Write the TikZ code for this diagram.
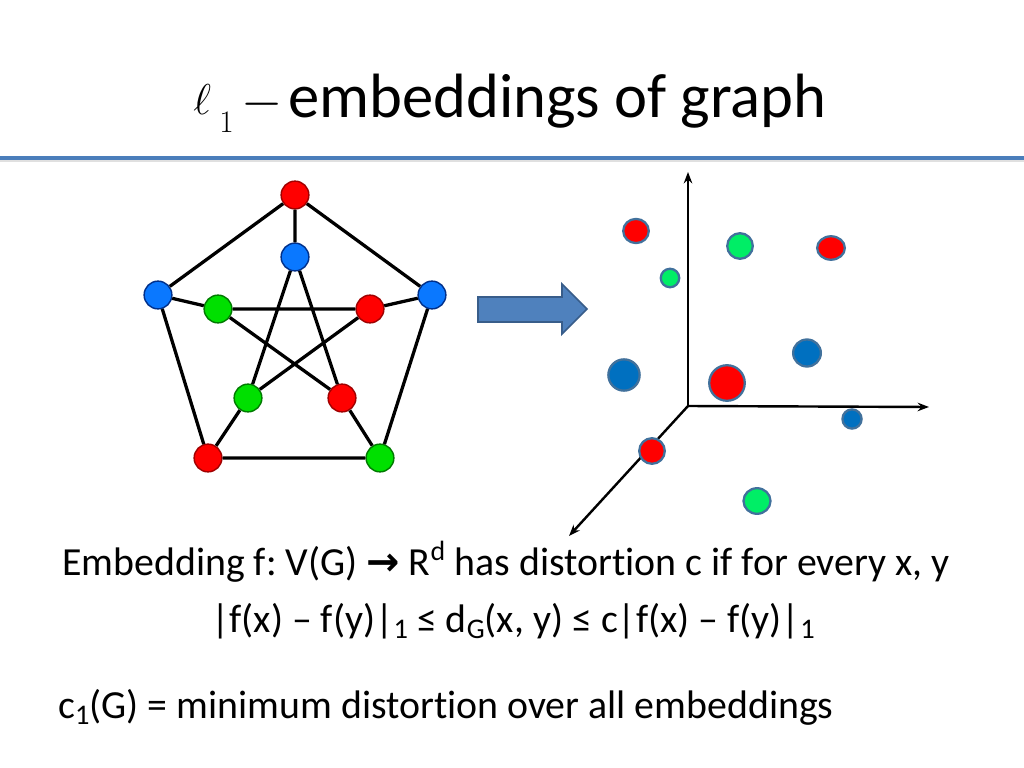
\RequirePackage{fix-cm}
\documentclass[tikz,border=0pt]{standalone}
\usepackage{graphicx}
\usepackage{fontspec}
\setmainfont[Ligatures=NoCommon]{Carlito}
\newfontfamily\symfont{DejaVu Sans}
\newfontfamily\lmr{Latin Modern Roman}
\usetikzlibrary{arrows.meta,shapes.geometric}
\definecolor{gred}{HTML}{FF0000}
\definecolor{gredline}{HTML}{A00000}
\definecolor{gblue}{HTML}{0A78FF}
\definecolor{gblueline}{HTML}{00308A}
\definecolor{ggreen}{HTML}{00E000}
\definecolor{ggreenline}{HTML}{007A00}
\definecolor{pgreen}{HTML}{00EE66}
\definecolor{pblue}{HTML}{0070C0}
\definecolor{pline}{HTML}{41719C}
\definecolor{arrfill}{HTML}{4F81BD}
\definecolor{arrline}{HTML}{385D8A}
\definecolor{hline}{HTML}{4A7EBB}
\newcommand{\pxu}{0.703125pt}
\newcommand{\mysb}[1]{\raisebox{-0.35ex}{\fontsize{20}{20}\selectfont #1}}
\tikzset{
  gnode/.style={circle, draw, line width=1pt, minimum size=19.5pt, inner sep=0pt},
  gr/.style={gnode, fill=gred, draw=gredline},
  gb/.style={gnode, fill=gblue, draw=gblueline},
  gg/.style={gnode, fill=ggreen, draw=ggreenline},
  edge/.style={line width=2.3pt, black},
  pdot/.style={ellipse, draw=pline, line width=1.6pt, inner sep=0pt},
  axis/.style={line width=1.7pt, black, -{Stealth[length=8pt,width=6pt]}},
  body/.style={inner sep=0pt, font=\fontsize{28}{32}\selectfont},
  tpart/.style={inner sep=0pt, anchor=base west}
}
\begin{document}
\frenchspacing
\begin{tikzpicture}[x=\pxu, y=-\pxu]
\useasboundingbox (0,0) rectangle (1024,768);
\fill[white] (0,0) rectangle (1024,768);
% header line
\fill[black!12] (0,160) rectangle (1024,162);
\draw[hline, line width=2.2pt] (0,158) -- (1024,158);
% title
\node[tpart, font=\fontsize{24.88}{30}\selectfont] (tl) at (193,115) {\scalebox{1.22}{$\ell$}};
\node[tpart, font=\lmr\fontsize{22}{22}\selectfont] (tsub) at (219,133) {1};
\node[tpart, font=\fontsize{24.88}{30}\selectfont] (tminus) at (241,118) {\scalebox{1.5}{$-$}};
\node[tpart, font=\fontsize{44}{52}\selectfont] (title) at (288,118) {embeddings of graph};
% Petersen graph
\node[gr] (o1) at (295,195) {};
\node[gb] (o2) at (158,295) {};
\node[gb] (o5) at (432,295) {};
\node[gr] (o3) at (208,458) {};
\node[gg] (o4) at (380,458) {};
\node[gb] (i1) at (295,257) {};
\node[gg] (i2) at (218,309) {};
\node[gr] (i5) at (370,309) {};
\node[gg] (i3) at (248,398) {};
\node[gr] (i4) at (342,398) {};
\draw[edge] (o1) -- (o2) (o2) -- (o3) (o3) -- (o4) (o4) -- (o5) (o5) -- (o1);
\draw[edge] (o1) -- (i1) (o2) -- (i2) (o3) -- (i3) (o4) -- (i4) (o5) -- (i5);
\draw[edge] (i1) -- (i3) (i1) -- (i4) (i2) -- (i5) (i2) -- (i4) (i5) -- (i3);
% block arrow
\draw[fill=arrfill, draw=arrline, line width=1.2pt]
  (478,297) -- (562,297) -- (562,284) -- (587,309) -- (562,334) -- (562,322) -- (478,322) -- cycle;
% axes
\coordinate (O) at (688,406);
\coordinate (Ay) at (688,172);
\coordinate (Ax) at (929,407);
\coordinate (Az) at (569,536);
\draw[axis] (O) -- (Ay);
\draw[axis] (O) -- (Ax);
\draw[axis] (O) -- (Az);
% points
\node[pdot, fill=gred, minimum width=18pt, minimum height=17pt] (p1) at (636,231) {};
\node[pdot, fill=pgreen, minimum width=18pt, minimum height=18pt] (p2) at (740,246) {};
\node[pdot, fill=gred, minimum width=19.5pt, minimum height=16.5pt] (p3) at (831,248) {};
\node[pdot, fill=pgreen, minimum width=13pt, minimum height=13pt] (p4) at (670,278) {};
\node[pdot, fill=pblue, minimum width=22pt, minimum height=22pt] (p5) at (624,375) {};
\node[pdot, fill=gred, minimum width=25pt, minimum height=25pt] (p6) at (727,383) {};
\node[pdot, fill=pblue, minimum width=19.5pt, minimum height=19pt] (p7) at (807,353) {};
\node[pdot, fill=pblue, minimum width=13.5pt, minimum height=13.5pt] (p8) at (852,419) {};
\node[pdot, fill=gred, minimum width=18pt, minimum height=18pt] (p9) at (652,451) {};
\node[pdot, fill=pgreen, minimum width=19pt, minimum height=18pt] (p10) at (757,501) {};
% text
\node[body, anchor=base west] (t1) at (62,575)
  {Embedding f: V(G) {\symfont\bfseries →} R\textsuperscript{d} has distortion c if for every x, y};
\node[body, anchor=base] (t2) at (513,632)
  {|f(x) – f(y)|\mysb{1} ≤ d\mysb{G}(x, y) ≤ c|f(x) – f(y)|\mysb{1}};
\node[body, anchor=base west] (t3) at (58,718)
  {c\mysb{1}(G) = minimum distortion over all embeddings};
\end{tikzpicture}
\end{document}
